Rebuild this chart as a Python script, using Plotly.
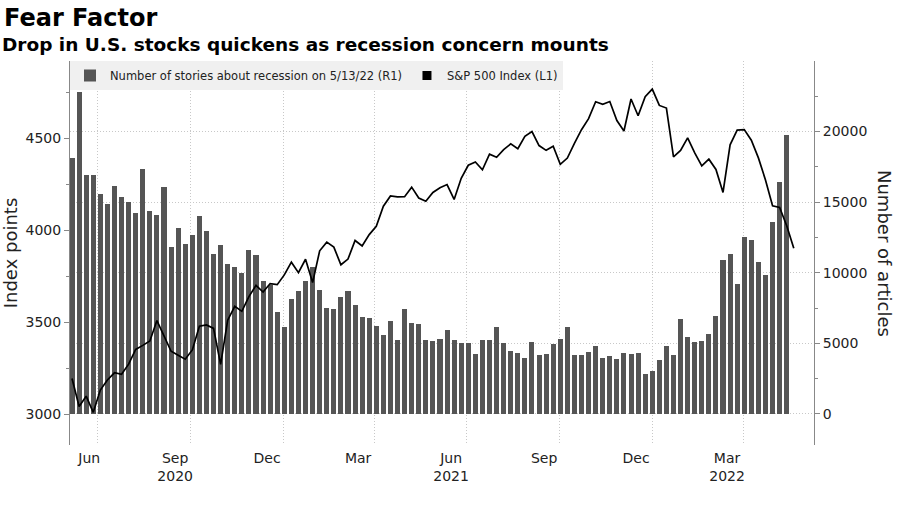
import pandas as pd
import plotly.graph_objects as go

# weekly closes, S&P 500 (left axis)
spx_dates = pd.date_range("2020-06-05", periods=103, freq="W-FRI")
spx = [3193, 3041, 3097, 3009, 3130, 3185, 3224, 3216, 3271, 3351, 3373, 3397, 3508,
       3427, 3341, 3319, 3298, 3348, 3477, 3484, 3465, 3270, 3510, 3585, 3558, 3638,
       3699, 3663, 3709, 3703, 3756,
       3825, 3768, 3841, 3714, 3887, 3934, 3907, 3811, 3842, 3943, 3913, 3975, 4020,
       4129, 4185, 4180, 4181, 4233, 4174, 4156, 4204, 4230, 4247, 4166, 4281, 4352,
       4370, 4327, 4412, 4395, 4437, 4468, 4442, 4509, 4535, 4459, 4433, 4455, 4357,
       4391, 4471, 4545, 4605, 4697, 4683, 4698, 4595, 4538, 4712, 4621, 4725, 4766,
       4677, 4663, 4398, 4432, 4501, 4419, 4349, 4385, 4329, 4204, 4463, 4543, 4546,
       4488, 4392, 4272, 4132, 4123, 4023, 3901]

# number of stories about recession per week (right axis)
story_dates = spx_dates[:102]
stories = [18100, 22800, 16900, 16900, 15600, 14850, 16150, 15350, 15000, 14250,
           17350, 14400, 14100, 16100, 11800, 13150, 12050, 12700, 14000, 12950,
           11350, 12000, 10600, 10400, 9950, 11600, 11250, 9450, 9100, 7250,
           6150, 8150, 8700, 9400, 10400, 8800, 7500, 7400, 8300, 8700,
           7700, 6880, 6830, 6240, 5600, 6570, 5230, 7420, 6450, 6360,
           5230, 5180, 5340, 5930, 5230, 4990, 5040, 4280, 5230, 5230,
           6170, 5010, 4490, 4330, 3950, 5110, 4140, 4230, 4940, 5340,
           6190, 4140, 4210, 4370, 4780, 3970, 4090, 3900, 4330, 4230,
           4330, 2860, 3070, 3810, 4780, 4180, 6740, 5460, 5130, 5200,
           5670, 6950, 10920, 11350, 9220, 12500, 12340, 10780, 9860, 13620,
           16430, 19790]

month_ticks = ["2020-06-22", "2020-09-15", "2020-12-15", "2021-03-15", "2021-06-15",
               "2021-09-15", "2021-12-15", "2022-03-15"]
month_labels = ["Jun", "Sep<br>2020", "Dec", "Mar", "Jun<br>2021", "Sep", "Dec", "Mar<br>2022"]
month_ends = ["2020-06-30", "2020-09-30", "2020-12-31", "2021-03-31", "2021-06-30",
              "2021-09-30", "2021-12-31", "2022-03-31"]

font = "DejaVu Sans"
grid = "#c8c8c8"
dots = "1px,2px"
plot_h = 506 - 61 - 61
plot_w = 900 - 70 - 86

fig = go.Figure()
fig.add_trace(go.Bar(x=story_dates, y=stories, yaxis="y",
                     name="Number of stories about recession on 5/13/22 (R1)",
                     marker=dict(color="#555555", line=dict(width=0)),
                     width=5 * 86400000))
fig.add_trace(go.Scatter(x=spx_dates, y=spx, yaxis="y2", mode="lines",
                         line=dict(color="black", width=1.7), showlegend=False))
# legend entry drawn as a square, like the original
fig.add_trace(go.Scatter(x=[None], y=[None], yaxis="y2", mode="markers",
                         name="S&P 500 Index (L1)",
                         marker=dict(symbol="square", color="black", size=9)))

fig.update_layout(
    width=900, height=506,
    margin=dict(l=70, r=86, t=61, b=61, autoexpand=False),
    paper_bgcolor="white", plot_bgcolor="white",
    font=dict(family=font, size=14, color="#222222"),
    bargap=0,
    showlegend=True,
    legend=dict(orientation="h", x=0, y=1, xanchor="left", yanchor="top",
                bgcolor="#f0f0f0", font=dict(size=11.5, color="#222222"),
                itemwidth=30, tracegroupgap=0),
    xaxis=dict(type="date", range=["2020-06-03", "2022-06-09"], automargin=False,
               tickmode="array", tickvals=month_ticks, ticktext=month_labels,
               ticks="", showgrid=False, showline=False, zeroline=False,
               tickfont=dict(size=14), ticklabelstandoff=3,
               minor=dict(tickmode="array", tickvals=month_ends, showgrid=True,
                          gridcolor=grid, griddash=dots, gridwidth=1, ticks="")),
    yaxis=dict(side="right", range=[-2200, 25000], automargin=False,
               tickmode="array", tickvals=[0, 5000, 10000, 15000, 20000], tickformat="d",
               ticks="outside", ticklen=5, tickcolor="#888888",
               showline=True, linecolor="#888888", linewidth=1,
               showgrid=True, gridcolor=grid, griddash=dots, zeroline=False,
               minor=dict(tickmode="array", tickvals=[2500, 7500, 12500, 17500, 22500],
                          ticks="outside", ticklen=3, tickcolor="#888888", showgrid=False)),
    yaxis2=dict(side="left", overlaying="y", range=[2831.5, 4918.5], automargin=False,
                tickmode="array", tickvals=[3000, 3500, 4000, 4500], tickformat="d",
                ticks="outside", ticklen=5, tickcolor="#888888",
                showline=True, linecolor="#888888", linewidth=1,
                showgrid=False, zeroline=False,
                title=dict(text="Index points", font=dict(size=18), standoff=4),
                minor=dict(tickmode="array", tickvals=[3250, 3750, 4250, 4750],
                           ticks="outside", ticklen=3, tickcolor="#888888")),
    annotations=[
        dict(text="<b>Fear Factor</b>", xref="paper", yref="paper",
             x=-68 / plot_w, y=1 + 43 / plot_h,
             xanchor="left", yanchor="middle", showarrow=False,
             font=dict(family=font, size=24, color="black")),
        dict(text="<b>Drop in U.S. stocks quickens as recession concern mounts</b>",
             xref="paper", yref="paper", x=-70 / plot_w, y=1 + 17 / plot_h,
             xanchor="left", yanchor="middle", showarrow=False,
             font=dict(family=font, size=18.5, color="black")),
        dict(text="Number of articles", xref="paper", yref="paper",
             x=1 + 71 / plot_w, y=0.5,
             xanchor="center", yanchor="middle", showarrow=False, textangle=90,
             font=dict(size=18)),
    ],
)

# the page's default body margin would push the figure off its place
fig.write_html("out.html", config={"displayModeBar": False},
               post_script="document.body.style.margin='0';")
